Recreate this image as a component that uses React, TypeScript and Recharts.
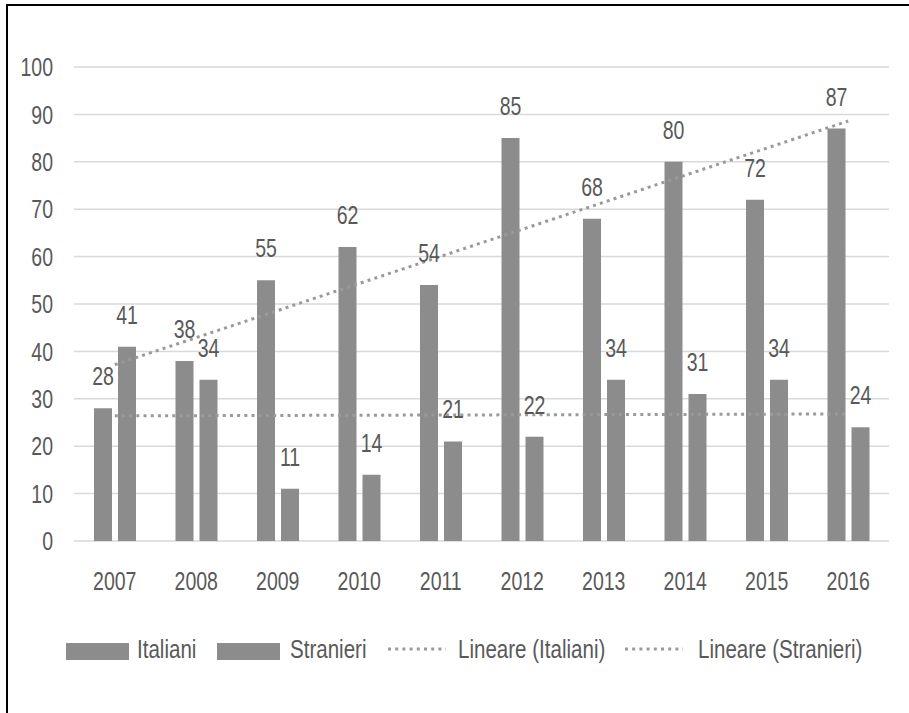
import React from 'react'
import { Bar, Line, XAxis, YAxis, CartesianGrid, LabelList, ComposedChart } from 'recharts'

const ANNI = ['2007', '2008', '2009', '2010', '2011', '2012', '2013', '2014', '2015', '2016']
const ITALIANI = [28, 38, 55, 62, 54, 85, 68, 80, 72, 87]
const STRANIERI = [41, 34, 11, 14, 21, 22, 34, 31, 34, 24]
// linear trend, only the two ends
const TREND_ITALIANI = [37.2, null, null, null, null, null, null, null, null, 88.6]
const TREND_STRANIERI = [26.4, null, null, null, null, null, null, null, null, 26.8]
const Y_TICKS = [0, 10, 20, 30, 40, 50, 60, 70, 80, 90, 100]

const FONT = '"Liberation Sans", Arial, sans-serif'
const TEXT = '#595959'
const BAR = '#8c8c8c'
const TREND = '#9a9a9a'
const SQUEEZE = 0.75   // the source font is a narrow one

const data = ANNI.map((anno, i) => ({
  anno,
  italiani: ITALIANI[i],
  stranieri: STRANIERI[i],
  trendIt: TREND_ITALIANI[i],
  trendSt: TREND_STRANIERI[i],
}))

// ── Narrow svg text ───────────────────────────────────────────────────────────

function NarrowText({ x, y, anchor, dy, children }: { x: number; y: number; anchor: 'start' | 'middle' | 'end'; dy: string; children: React.ReactNode }) {
  return (
    <text
      transform={`translate(${x},${y}) scale(${SQUEEZE},1)`}
      textAnchor={anchor}
      dy={dy}
      fontSize={26}
      fontFamily={FONT}
      fill={TEXT}
    >
      {children}
    </text>
  )
}

function XTick(props: any) {
  const { x, y, payload } = props
  return <NarrowText x={x} y={y} anchor="middle" dy="0.71em">{payload.value}</NarrowText>
}

function YTick(props: any) {
  const { x, y, payload } = props
  return <NarrowText x={x} y={y} anchor="end" dy="0.355em">{payload.value}</NarrowText>
}

function ValueLabel(props: any) {
  const { x, y, width, value } = props
  return <NarrowText x={x + width / 2} y={y - 23} anchor="middle" dy="0">{value}</NarrowText>
}

// ── Legend ────────────────────────────────────────────────────────────────────

function Swatch({ left }: { left: number }) {
  return <span style={{ position: 'absolute', left, top: 643, width: 63, height: 17, background: BAR }} />
}

function Dots({ left }: { left: number }) {
  return (
    <svg style={{ position: 'absolute', left, top: 646 }} width="58" height="6">
      <line x1="0" y1="3" x2="58" y2="3" stroke={TREND} strokeWidth="3" strokeDasharray="3 4.2" />
    </svg>
  )
}

function LegendText({ left, children }: { left: number; children: React.ReactNode }) {
  return (
    <span
      style={{
        position: 'absolute', left, top: 634, fontSize: 26, lineHeight: '30px', color: TEXT,
        fontFamily: FONT, whiteSpace: 'nowrap', transform: 'scaleX(0.79)', transformOrigin: 'left center',
      }}
    >
      {children}
    </span>
  )
}

export default function App() {
  return (
    <div style={{ position: 'absolute', left: 0, top: 0, width: 909, height: 713, background: '#fff', overflow: 'hidden' }}>
      <div style={{ position: 'absolute', left: 6, top: 4, width: 909, height: 713, borderTop: '2px solid #000', borderLeft: '2px solid #000' }} />
      <div style={{ position: 'absolute', left: 0, top: 0 }}>
        <ComposedChart
          width={909}
          height={600}
          data={data}
          margin={{ top: 67, right: 20, bottom: 0, left: 0 }}
          barSize={18}
          barGap={6}
        >
          <CartesianGrid stroke="#d9d9d9" strokeWidth={1.5} vertical={false} />
          <XAxis
            dataKey="anno"
            axisLine={false}
            tickLine={false}
            height={59}
            tickMargin={25}
            tick={<XTick />}
          />
          <YAxis
            domain={[0, 100]}
            ticks={Y_TICKS}
            axisLine={false}
            tickLine={false}
            width={74}
            tickMargin={15}
            tick={<YTick />}
          />
          <Bar dataKey="italiani" fill={BAR} isAnimationActive={false}>
            <LabelList dataKey="italiani" content={<ValueLabel />} />
          </Bar>
          <Bar dataKey="stranieri" fill={BAR} isAnimationActive={false}>
            <LabelList dataKey="stranieri" content={<ValueLabel />} />
          </Bar>
          <Line dataKey="trendIt" stroke={TREND} strokeWidth={3} strokeDasharray="3 4.2" dot={false} connectNulls isAnimationActive={false} />
          <Line dataKey="trendSt" stroke={TREND} strokeWidth={3} strokeDasharray="3 4.2" dot={false} connectNulls isAnimationActive={false} />
        </ComposedChart>
      </div>
      <Swatch left={66} />
      <LegendText left={137}>Italiani</LegendText>
      <Swatch left={217} />
      <LegendText left={290}>Stranieri</LegendText>
      <Dots left={388} />
      <LegendText left={458}>Lineare (Italiani)</LegendText>
      <Dots left={625} />
      <LegendText left={698}>Lineare (Stranieri)</LegendText>
    </div>
  )
}
